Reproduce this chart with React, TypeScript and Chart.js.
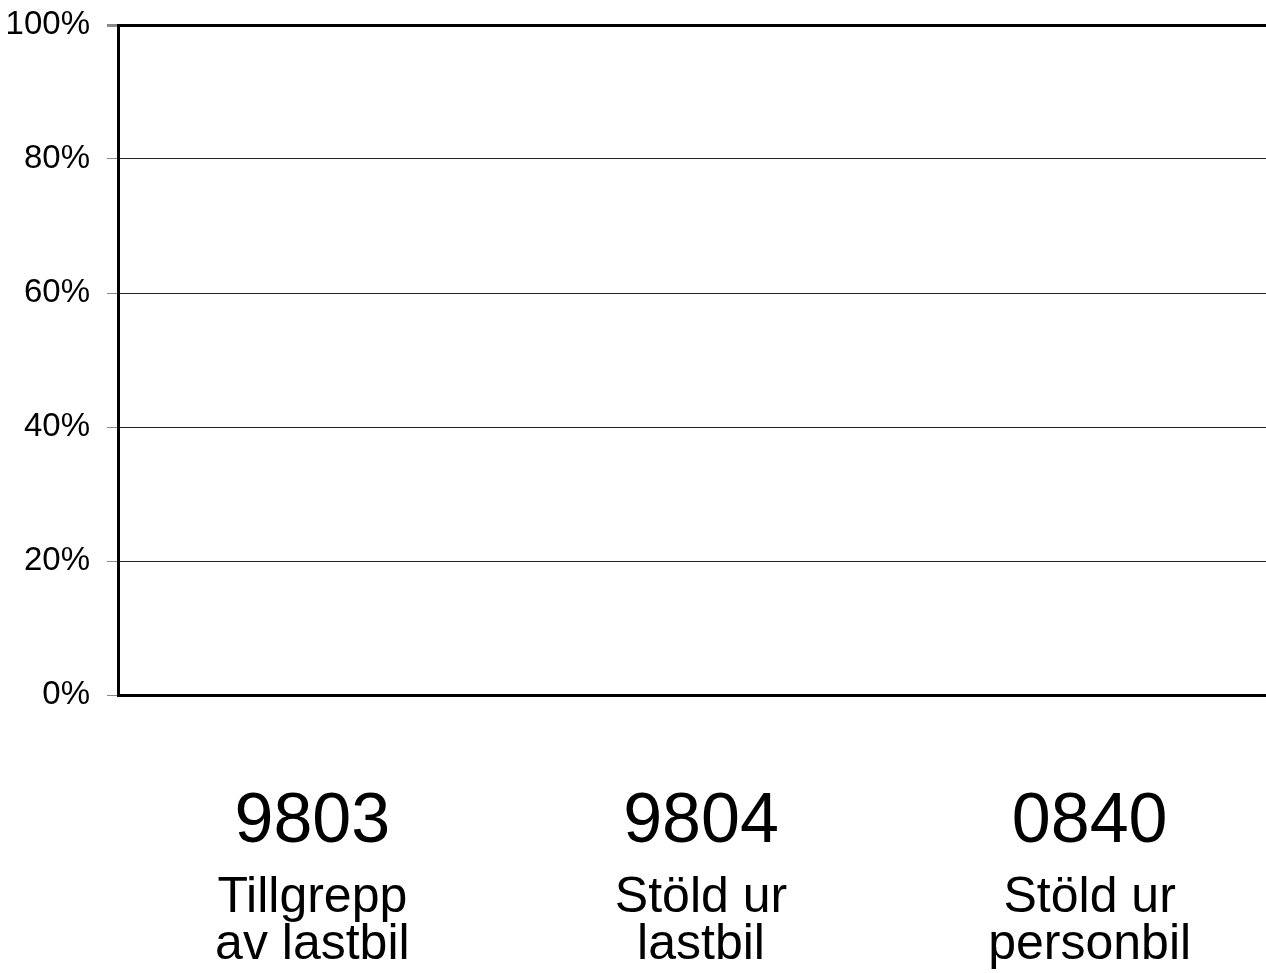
import React, { useEffect, useRef } from "react";
import { Chart, registerables } from "chart.js";

Chart.register(...registerables);

const codes = ["9803", "9804", "0840"];
const descriptions = [
  ["Tillgrepp", "av lastbil"],
  ["Stöld ur", "lastbil"],
  ["Stöld ur", "personbil"],
];
const values = [0, 0, 0];
const yTicks = [0, 20, 40, 60, 80, 100];

const FONT = "'Liberation Sans', Arial, sans-serif";

export default function App() {
  const ref = useRef<HTMLCanvasElement | null>(null);
  useEffect(() => {
    if (!ref.current) return;
    const chart = new Chart(ref.current, {
      type: "bar",
      data: {
        labels: codes,
        datasets: [
          {
            label: "Andel",
            data: values,
            backgroundColor: "#000080",
            borderWidth: 0,
          },
        ],
      },
      options: {
        responsive: false,
        animation: false,
        layout: { padding: { top: 25, left: 0, right: 0, bottom: 0 } },
        plugins: { legend: { display: false }, tooltip: { enabled: false } },
        scales: {
          y: {
            min: 0,
            max: 100,
            afterBuildTicks: (axis: any) => {
              axis.ticks = yTicks.map((v) => ({ value: v }));
            },
            afterFit: (axis: any) => {
              axis.width = 118;
              axis.paddingTop = 0;
              axis.paddingBottom = 0;
            },
            ticks: {
              callback: (v: any) => v + "%",
              color: "#000",
              font: { family: FONT, size: 33 },
              padding: 17,
            },
            grid: {
              color: (ctx: any) =>
                ctx.tick && ctx.tick.value === 100 ? "#000" : "#222",
              lineWidth: (ctx: any) =>
                ctx.tick && ctx.tick.value === 100 ? 3 : 1,
              tickColor: "#888",
              tickLength: 11,
            },
            border: { display: true, color: "#000", width: 3 },
          },
          x: {
            position: "bottom",
            weight: 1,
            grid: { display: false },
            border: { display: true, color: "#000", width: 3 },
            afterFit: (axis: any) => {
              axis.height = 166;
              axis.paddingLeft = 0;
              axis.paddingRight = 0;
            },
            ticks: {
              color: "#000",
              font: { family: FONT, size: 70 },
              padding: 78,
              maxRotation: 0,
              autoSkip: false,
            },
          },
          x2: {
            type: "category",
            position: "bottom",
            weight: 2,
            labels: codes,
            grid: { display: false },
            border: { display: false },
            afterFit: (axis: any) => {
              axis.height = 112;
              axis.paddingLeft = 0;
              axis.paddingRight = 0;
            },
            ticks: {
              color: "#000",
              font: { family: FONT, size: 50, lineHeight: 0.94 },
              padding: 6,
              maxRotation: 0,
              autoSkip: false,
              callback: (_v: any, i: number) => descriptions[i],
            },
          },
        },
      },
    });
    return () => chart.destroy();
  }, []);
  return (
    <div
      style={{
        position: "fixed",
        left: 0,
        top: 0,
        width: 1266,
        height: 973,
        overflow: "hidden",
        background: "#fff",
      }}
    >
      <canvas ref={ref} width={1284} height={973} style={{ display: "block" }} />
    </div>
  );
}
